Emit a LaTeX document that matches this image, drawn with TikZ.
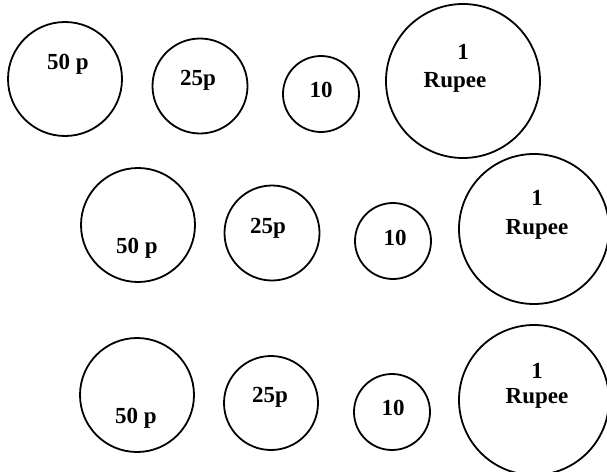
\documentclass[tikz,border=0pt]{standalone}
\usepackage{fontspec}
\setmainfont{Liberation Serif}
\begin{document}
\begin{tikzpicture}[x=1pt,y=-1pt,
  coin/.style={draw=black,circle,line width=1.8pt,inner sep=0pt},
  lbl/.style={font=\fontsize{23}{25}\selectfont\bfseries,inner sep=0pt}]
\useasboundingbox (0,0) rectangle (607,471);
\clip (0,0) rectangle (607,471);
% row 1
\node[coin,minimum size=114pt] (c11) at (65,79) {};
\node[coin,minimum size=95pt] (c12) at (200,86) {};
\node[coin,minimum size=76pt] (c13) at (321,94) {};
\node[coin,minimum size=154pt] (c14) at (463,81) {};
\node[lbl] (t11) at (68,64) {50 p};
\node[lbl] (t12) at (198,80) {25p};
\node[lbl] (t13) at (321,90) {10};
\node[lbl] (t14a) at (463,52) {1};
\node[lbl] (t14b) at (455,82) {Rupee};
% row 2
\node[coin,minimum size=114pt] (c21) at (138,225) {};
\node[coin,minimum size=95pt] (c22) at (272,233) {};
\node[coin,minimum size=76pt] (c23) at (393,241) {};
\node[coin,minimum size=150pt] (c24) at (534,229) {};
\node[lbl] (t21) at (137,248) {50 p};
\node[lbl] (t22) at (268,228) {25p};
\node[lbl] (t23) at (395,238) {10};
\node[lbl] (t24a) at (537,198) {1};
\node[lbl] (t24b) at (537,229) {Rupee};
% row 3
\node[coin,minimum size=114pt] (c31) at (137,395) {};
\node[coin,minimum size=94pt] (c32) at (271,403) {};
\node[coin,minimum size=76pt] (c33) at (392,412) {};
\node[coin,minimum size=150pt] (c34) at (534,400) {};
\node[lbl] (t31) at (136,418) {50 p};
\node[lbl] (t32) at (270,397) {25p};
\node[lbl] (t33) at (393,408) {10};
\node[lbl] (t34a) at (537,371) {1};
\node[lbl] (t34b) at (537,398) {Rupee};
\end{tikzpicture}
\end{document}
